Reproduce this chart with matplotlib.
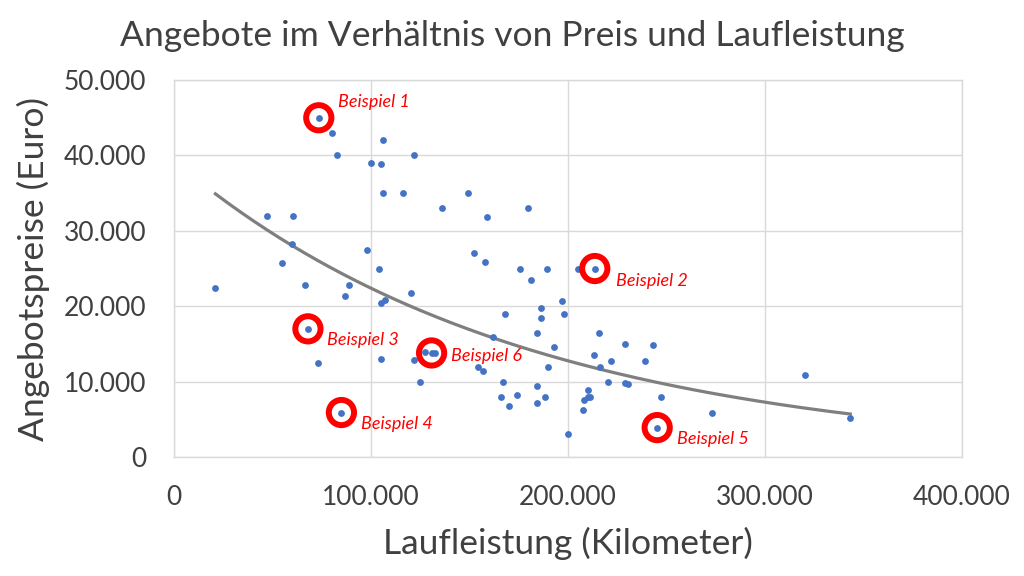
import numpy as np
import matplotlib
matplotlib.use("Agg")
import matplotlib.pyplot as plt
from matplotlib.ticker import FuncFormatter

# offers: mileage (km) and asking price (euro)
laufleistung = [21000, 47200, 54800, 60100, 60600, 66700, 68000, 73100, 73500, 80000,
                83000, 85000, 86700, 89000, 98000, 100000, 104100, 105100, 105100, 105100,
                106100, 106100, 107300, 116200, 120200, 122000, 122000, 124900, 127400, 130800,
                132600, 136200, 149200, 152100, 154200, 157000, 158000, 159200, 162100, 166200,
                167000, 168200, 170300, 174100, 175500, 180000, 181100, 184100, 184300, 184500,
                186300, 186300, 188200, 189200, 190000, 193200, 197200, 198200, 200200, 205100,
                207800, 208000, 210200, 210200, 211400, 213200, 213700, 215700, 216400, 220300,
                221800, 228800, 229300, 230700, 239300, 243300, 245400, 247200, 273300, 320300,
                343500]
preis = [22400, 32000, 25800, 28300, 32000, 22800, 17000, 12500, 45000, 43000,
         40000, 5900, 21400, 22800, 27400, 39000, 25000, 38900, 20400, 13000,
         42000, 35000, 20800, 35000, 21800, 40000, 12900, 9900, 13900, 13800,
         13800, 33000, 35000, 27000, 11900, 11400, 25900, 31900, 15900, 8000,
         9900, 19000, 6800, 8200, 25000, 33000, 23500, 7200, 9400, 16500,
         19700, 18500, 8000, 25000, 11900, 14600, 20700, 19000, 3000, 25000,
         6300, 7600, 8900, 8000, 7900, 13500, 25000, 16400, 12000, 9900,
         12800, 9800, 15000, 9700, 12800, 14800, 3900, 7900, 5900, 10900,
         5200]

# highlighted offers (index into the lists above)
beispiel_index = [8, 66, 6, 11, 76, 29]
beispiel_text = ["Beispiel 1", "Beispiel 2", "Beispiel 3", "Beispiel 4", "Beispiel 5", "Beispiel 6"]
# label offsets in points relative to the marked point
label_offsets = [(14, 11), (15, -9), (14, -8), (14, -8), (14, -8), (14, -2)]

x_ticks = [0, 100000, 200000, 300000, 400000]
y_ticks = [0, 10000, 20000, 30000, 40000, 50000]

text_color = "#404040"
grid_color = "#d9d9d9"
plt.rcParams["font.family"] = ["Lato", "DejaVu Sans"]

x = np.array(laufleistung, dtype=float)
y = np.array(preis, dtype=float)

fig = plt.figure(figsize=(10.24, 5.76), dpi=100)
ax = fig.add_axes([0.170, 0.2066, 0.769, 0.6544])

# exponential trendline (least squares on ln y, like Excel)
b, ln_a = np.polyfit(x, np.log(y), 1)
x_fit = np.linspace(x.min(), x.max(), 200)
ax.plot(x_fit, np.exp(ln_a) * np.exp(b * x_fit), color="#7f7f7f", linewidth=2.3, zorder=2)

ax.scatter(x, y, s=24, color="#4472c4", linewidths=0, zorder=3)

# red rings and labels for the examples
for idx, label, offset in zip(beispiel_index, beispiel_text, label_offsets):
    ax.scatter([x[idx]], [y[idx]], s=330, facecolors="none", edgecolors="#ff0000",
               linewidths=4.3, zorder=4)
    ax.annotate(label, (x[idx], y[idx]), xytext=offset, textcoords="offset points",
                ha="left", va="center", color="#ff0000", fontsize=13, style="italic")

ax.set_xlim(0, 400000)
ax.set_ylim(0, 50000)
ax.set_xticks(x_ticks)
ax.set_yticks(y_ticks)
thousands = FuncFormatter(lambda v, pos: f"{int(v):,}".replace(",", "."))
ax.xaxis.set_major_formatter(thousands)
ax.yaxis.set_major_formatter(thousands)
ax.tick_params(axis="both", length=0, labelsize=19, labelcolor=text_color)
ax.tick_params(axis="x", pad=20)
ax.tick_params(axis="y", pad=20)

ax.grid(True, color=grid_color, linewidth=1)
ax.set_axisbelow(True)
for spine in ax.spines.values():
    spine.set_color(grid_color)
    spine.set_linewidth(1)

ax.set_xlabel("Laufleistung (Kilometer)", fontsize=25.5, color=text_color, labelpad=12)
ax.set_ylabel("Angebotspreise (Euro)", fontsize=25.5, color=text_color, labelpad=10)
fig.text(0.5, 0.937, "Angebote im Verhältnis von Preis und Laufleistung", ha="center",
         va="center", fontsize=25.5, color=text_color)

fig.savefig("out.png", dpi=100)
